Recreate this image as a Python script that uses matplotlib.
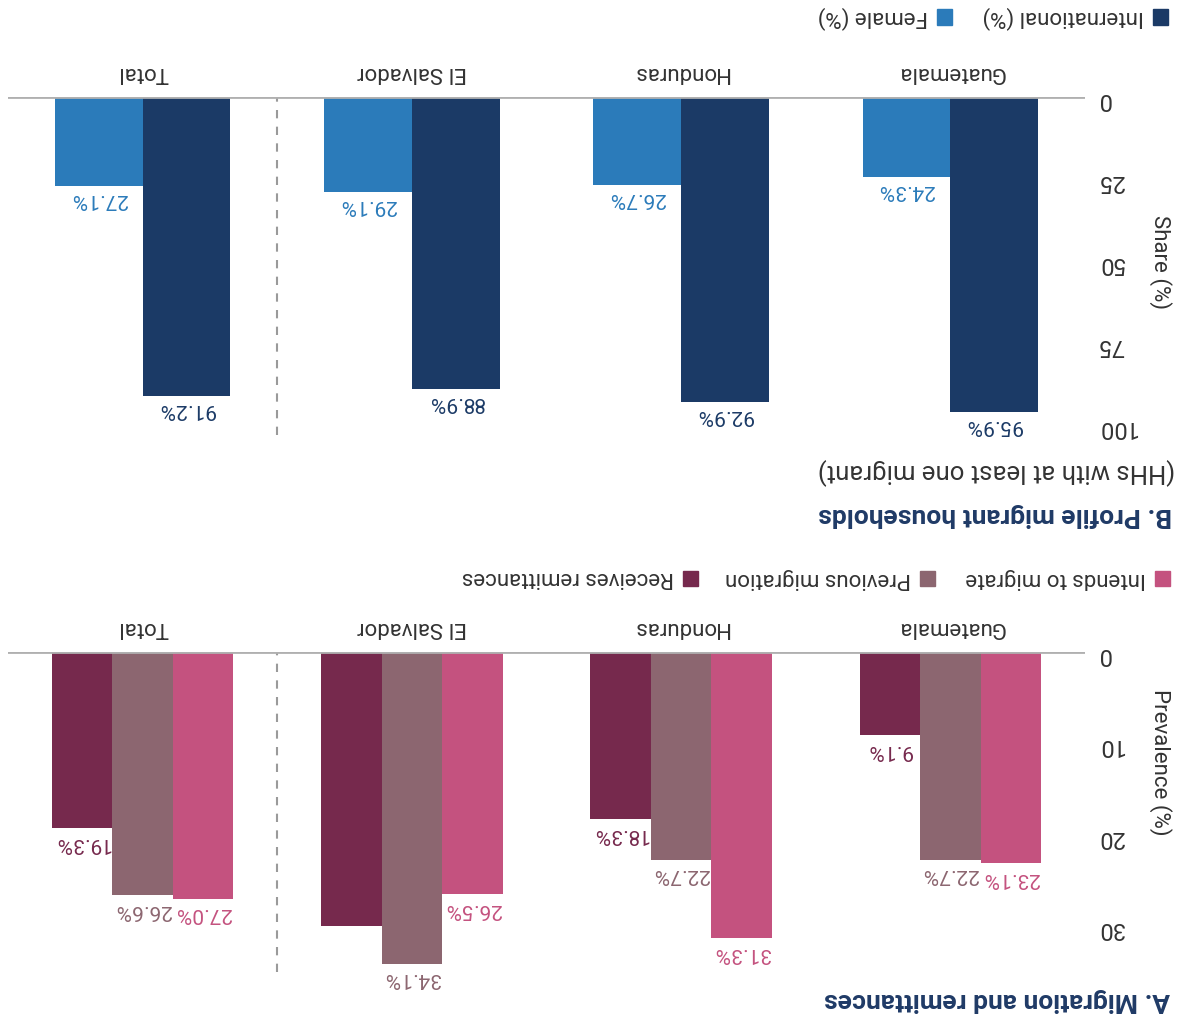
import matplotlib
matplotlib.use("Agg")
import numpy as np
import matplotlib.pyplot as plt
from matplotlib.patches import Rectangle

plt.rcParams['font.family'] = ['Roboto', 'DejaVu Sans']

W, H = 1184, 1025

countries = ["Guatemala", "Honduras", "El Salvador", "Total"]

# panel A: migration and remittances (prevalence, %)
intends = [23.1, 31.3, 26.5, 27.0]
previous = [22.7, 22.7, 34.1, 26.6]
remit = [9.1, 18.3, 30.0, 19.3]
remit_shown = [True, True, False, True]   # El Salvador label not printed in the source

# panel B: profile of migrant households (share, %)
international = [95.9, 92.9, 88.9, 91.2]
female = [24.3, 26.7, 29.1, 27.1]

c_int, c_fem = "#1b3a66", "#2b7bba"
c_intends, c_prev, c_remit = "#c4527f", "#8c6670", "#76294d"
c_title = "#1f3a66"
c_grid = "#b0b0b0"
c_text = "#333333"


def fx(px):
    return px / W


def fy(py):
    return 1 - py / H


def style_axis(ax, ymax, ticks):
    # the whole chart is shown upside down: invert both axes, rotate text 180
    ax.set_xlim(-0.5, 3.5)
    ax.set_ylim(0, ymax)
    ax.invert_xaxis()
    ax.invert_yaxis()
    for s in ax.spines.values():
        s.set_visible(False)
    ax.axhline(0, color=c_grid, lw=2, zorder=3)
    ax.axvline(2.5, color="#9a9a9a", lw=1.5, ls=(0, (4, 4)))
    ax.xaxis.tick_top()
    ax.set_xticks(range(len(countries)))
    ax.set_xticklabels(countries, rotation=180, fontsize=16, color=c_text)
    ax.yaxis.tick_right()
    ax.set_yticks(ticks)
    ax.set_yticklabels([str(t) for t in ticks], rotation=180, fontsize=17,
                       color=c_text)
    ax.tick_params(axis='both', length=0)
    ax.tick_params(axis='x', pad=10)
    ax.tick_params(axis='y', pad=9)


fig = plt.figure(figsize=(W / 100, H / 100), dpi=100)
x = np.arange(len(countries))

# ---- panel B ----
axB = fig.add_axes([fx(8), fy(435), fx(1077), 338 / H])
style_axis(axB, 103, [0, 25, 50, 75, 100])
wb = 0.326
axB.bar(x - wb / 2, international, wb, color=c_int)
axB.bar(x + wb / 2, female, wb, color=c_fem)
for i in range(len(countries)):
    axB.text(x[i] - wb / 2, international[i] + 1.2, f"{international[i]:.1f}%",
             rotation=180, ha='center', va='top', fontsize=15, color=c_int)
    axB.text(x[i] + wb / 2, female[i] + 1.2, f"{female[i]:.1f}%",
             rotation=180, ha='center', va='top', fontsize=15, color=c_fem)

# ---- panel A ----
axA = fig.add_axes([fx(8), fy(972), fx(1077), 320 / H])
style_axis(axA, 35, [0, 10, 20, 30])
wa = 0.225
axA.bar(x - wa, intends, wa, color=c_intends)
axA.bar(x, previous, wa, color=c_prev)
axA.bar(x + wa, remit, wa, color=c_remit)
for i in range(len(countries)):
    axA.text(x[i] - wa, intends[i] + 0.6, f"{intends[i]:.1f}%", rotation=180,
             ha='center', va='top', fontsize=15, color=c_intends)
    axA.text(x[i], previous[i] + 0.6, f"{previous[i]:.1f}%", rotation=180,
             ha='center', va='top', fontsize=15, color=c_prev)
    if remit_shown[i]:
        axA.text(x[i] + wa, remit[i] + 0.6, f"{remit[i]:.1f}%", rotation=180,
                 ha='center', va='top', fontsize=15, color=c_remit)

# axis titles
fig.text(fx(1160), fy(262), "Share (%)", rotation=270, ha='center', va='center',
         fontsize=16, color=c_text)
fig.text(fx(1160), fy(762), "Prevalence (%)", rotation=270, ha='center',
         va='center', fontsize=16, color=c_text)

# panel titles
fig.text(fx(1172), fy(515), "B. Profile migrant households", rotation=180,
         ha='right', va='center', fontsize=19, fontweight='bold', color=c_title)
fig.text(fx(1175), fy(471), "(HHs with at least one migrant)", rotation=180,
         ha='right', va='center', fontsize=18.5, color=c_text)
fig.text(fx(1170), fy(1000), "A. Migration and remittances", rotation=180,
         ha='right', va='center', fontsize=19, fontweight='bold', color=c_title)


# legends, drawn by hand because the chart is upside down
def legend_item(sq_x, y, label, color):
    fig.add_artist(Rectangle((fx(sq_x), fy(y + 7.5)), fx(15), 15 / H,
                             transform=fig.transFigure, color=color))
    fig.text(fx(sq_x - 9), fy(y), label, rotation=180, ha='right',
             va='center', fontsize=16, color=c_text)


legend_item(1153, 17, "International (%)", c_int)
legend_item(937, 17, "Female (%)", c_fem)
legend_item(1155, 578, "Intends to migrate", c_intends)
legend_item(920, 578, "Previous migration", c_prev)
legend_item(683, 578, "Receives remittances", c_remit)

fig.savefig("out.png", dpi=100, facecolor="white")
